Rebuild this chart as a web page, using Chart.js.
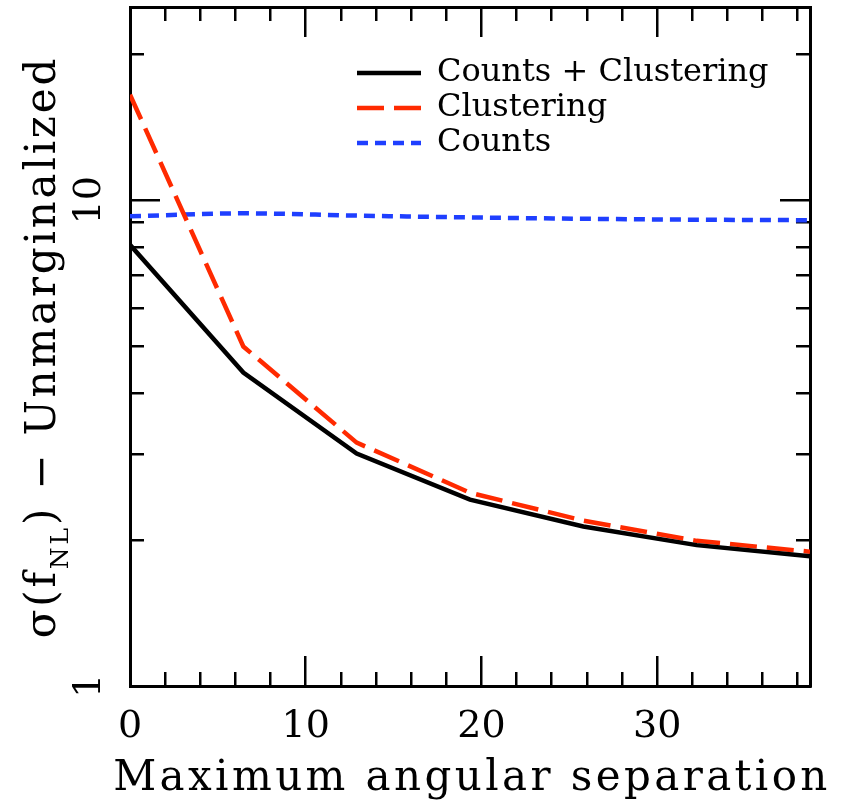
<!DOCTYPE html>
<html>
<head>
<meta charset="utf-8">
<script src="https://cdn.jsdelivr.net/npm/chart.js@4/dist/chart.umd.min.js"></script>
<style>
  html, body { margin: 0; padding: 0; background: #fff; }
</style>
</head>
<body>
<canvas id="myChart" width="842" height="800"></canvas>
<script>
// datos
const separacion = [0, 6.45, 12.9, 19.35, 25.8, 32.25, 38.7];
const countsClustering = [8.1, 4.42, 3.01, 2.42, 2.13, 1.95, 1.85];
const clustering = [16.5, 5.0, 3.17, 2.50, 2.19, 1.99, 1.89];
const counts = [9.27, 9.40, 9.30, 9.22, 9.16, 9.12, 9.10];

const nombres = ['Counts + Clustering', 'Clustering', 'Counts'];

const xMayores = [0, 10, 20, 30];
const xMenores = [2, 4, 6, 8, 12, 14, 16, 18, 22, 24, 26, 28, 32, 34, 36, 38];
const yMayores = [1, 10];
const yMenores = [2, 3, 4, 5, 6, 7, 8, 9, 20];
const xMin = 0, xMax = 38.7;
const yMin = 1, yMax = 25;

const tituloX = 'Maximum angular separation';
const tituloY = ['σ(f', 'NL', ') − Unmarginalized'];

const fuente = 'DejaVu Serif';
Chart.defaults.font.family = fuente;
Chart.defaults.color = '#000';

const puntos = (serie) => separacion.map((x, i) => ({x: x, y: serie[i]}));

// quita el relleno que chart.js agrega por las etiquetas
function sinRelleno(s) {
    s.paddingTop = 0;
    s.paddingBottom = 0;
    s.paddingLeft = 0;
    s.paddingRight = 0;
}

// un eje solo para las marcas (hacia adentro)
function eje(pos, tipo, valores, largo, extra) {
    const horizontal = pos === 'top' || pos === 'bottom';
    return Object.assign({
        type: tipo,
        position: pos,
        min: horizontal ? xMin : yMin,
        max: horizontal ? xMax : yMax,
        bounds: 'data',
        afterBuildTicks: (s) => { s.ticks = valores.map((v) => ({value: v})); },
        afterFit: (s) => {
            if (horizontal) s.height = 0; else s.width = 0;
            sinRelleno(s);
        },
        grid: {display: true, drawOnChartArea: false, drawTicks: true, tickLength: -largo, tickWidth: 2.5, tickColor: '#000', color: '#000', lineWidth: 2.5},
        border: {display: false},
        ticks: {display: false, autoSkip: false}
    }, extra);
}

const borde = {display: true, width: 3, color: '#000'};

const titulos = {
    id: 'titulos',
    afterLayout(chart) {
        const lg = chart.legend;
        lg.left = 354;
        lg.top = 54;
        lg.right = 842;
        lg.bottom = 800;
    },
    afterDraw(chart) {
        const ctx = chart.ctx;
        const a = chart.chartArea;
        ctx.save();
        ctx.fillStyle = '#000';
        ctx.textBaseline = 'alphabetic';
        ctx.font = '42px "' + fuente + '"';
        ctx.letterSpacing = '3.4px';
        ctx.textAlign = 'center';
        ctx.fillText(tituloX, (a.left + a.right) / 2 + 2, 790);

        ctx.translate(55, 347);
        ctx.rotate(-Math.PI / 2);
        ctx.textAlign = 'left';
        ctx.letterSpacing = '2.8px';
        const partes = [[tituloY[0], 42, 0], [tituloY[1], 25, 13], [tituloY[2], 42, 0]];
        let total = 0;
        partes.forEach((p) => {
            ctx.font = p[1] + 'px "' + fuente + '"';
            total += ctx.measureText(p[0]).width;
        });
        let x = -total / 2;
        partes.forEach((p) => {
            ctx.font = p[1] + 'px "' + fuente + '"';
            ctx.fillText(p[0], x, p[2]);
            x += ctx.measureText(p[0]).width;
        });
        ctx.restore();
    }
};

// la leyenda toma el estilo de la linea, no el del punto
function etiquetas(chart) {
    const base = Chart.defaults.plugins.legend.labels.generateLabels(chart);
    return base.map((it) => {
        const ds = chart.data.datasets[it.datasetIndex];
        it.lineDash = ds.borderDash || [];
        it.lineWidth = ds.borderWidth;
        it.strokeStyle = ds.borderColor;
        it.lineCap = 'butt';
        return it;
    });
}

const config = {
    type: 'line',
    data: {
        datasets: [
            {
                label: nombres[0],
                data: puntos(countsClustering),
                borderColor: '#000000',
                borderWidth: 4.5,
                pointRadius: 0,
                fill: false
            },
            {
                label: nombres[1],
                data: puntos(clustering),
                borderColor: '#ff2a00',
                borderDash: [27, 10],
                borderWidth: 4.5,
                pointRadius: 0,
                fill: false
            },
            {
                label: nombres[2],
                data: puntos(counts),
                borderColor: '#1f3fff',
                borderDash: [11, 7],
                borderWidth: 4.5,
                pointRadius: 0,
                cubicInterpolationMode: 'monotone',
                fill: false
            }
        ]
    },
    options: {
        responsive: false,
        animation: false,
        layout: {padding: {top: 7, right: 32, left: 0, bottom: 0}},
        plugins: {
            tooltip: {enabled: false},
            legend: {
                position: 'chartArea',
                align: 'start',
                labels: {
                    usePointStyle: true,
                    pointStyle: 'line',
                    pointStyleWidth: 64,
                    font: {family: fuente, size: 32},
                    color: '#000',
                    padding: 3,
                    generateLabels: etiquetas
                }
            }
        },
        scales: {
            x: eje('bottom', 'linear', xMenores, 14, {border: borde}),
            xMay: eje('bottom', 'linear', xMayores, 30, {
                weight: 1,
                afterFit: (s) => { s.height = 114; sinRelleno(s); },
                ticks: {display: true, autoSkip: false, maxRotation: 0, padding: 52,
                    font: {family: fuente, size: 38, lineHeight: 1}, color: '#000'}
            }),
            xArriba: eje('top', 'linear', xMenores, 14, {border: borde}),
            xArribaMay: eje('top', 'linear', xMayores, 30),
            y: eje('left', 'logarithmic', yMenores, 14, {border: borde}),
            yMay: eje('left', 'logarithmic', yMayores, 30, {
                weight: 1,
                afterFit: (s) => { s.width = 130; sinRelleno(s); },
                ticks: {display: true, autoSkip: false, minRotation: 90, maxRotation: 90, crossAlign: 'center', padding: 46,
                    font: {family: fuente, size: 38, lineHeight: 1}, color: '#000',
                    callback: (v) => String(v)}
            }),
            yDer: eje('right', 'logarithmic', yMenores, 14, {border: borde}),
            yDerMay: eje('right', 'logarithmic', yMayores, 30)
        }
    },
    plugins: [titulos]
};

new Chart(document.querySelector('#myChart'), config);
</script>
</body>
</html>
